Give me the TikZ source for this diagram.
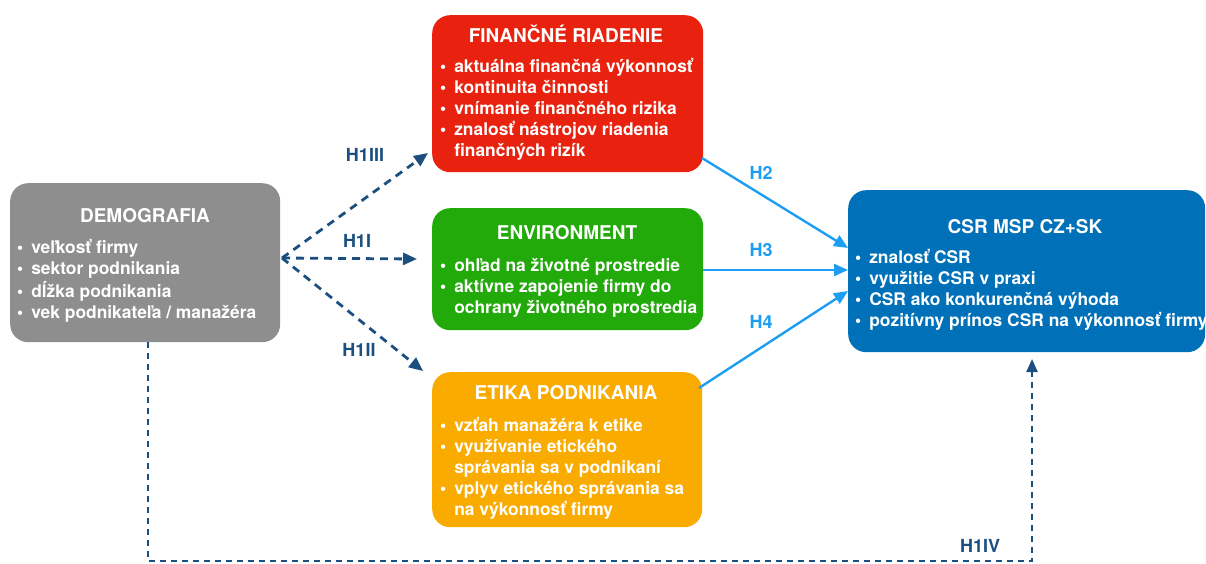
\documentclass[tikz,border=0pt]{standalone}
\usepackage{fontspec}
\setmainfont{TeX Gyre Heros}
\usetikzlibrary{arrows.meta}
\definecolor{cgray}{HTML}{8E8E8E}
\definecolor{cred}{HTML}{E8220E}
\definecolor{cgreen}{HTML}{22A90A}
\definecolor{corange}{HTML}{FAAB00}
\definecolor{cblue}{HTML}{0071B8}
\definecolor{cdark}{HTML}{1B4F80}
\definecolor{clight}{HTML}{1E9EF2}
\tikzset{
  box/.style={draw=none, rounded corners=18pt, inner sep=0pt, anchor=north west},
  ttl/.style={text=white, font=\fontsize{19}{22}\selectfont\bfseries, inner sep=0pt},
  lst/.style={text=white, font=\fontsize{17.4}{21.2}\selectfont\bfseries, inner sep=0pt, anchor=north west, align=left},
  hdash/.style={draw=cdark, line width=2.8pt, dash pattern=on 8pt off 6pt, -{Triangle[length=14pt,width=12pt]}},
  hsolid/.style={draw=clight, line width=2.4pt, -{Triangle[length=14pt,width=12pt]}},
  hlab/.style={font=\fontsize{18}{20}\selectfont\bfseries, inner sep=0pt},
}
\newcommand{\bl}{\textbullet}
\begin{document}
\begin{tikzpicture}[x=1pt,y=-1pt]
\useasboundingbox (0,0) rectangle (1206,564);
% boxes
\node[box, fill=cgray, minimum width=270pt, minimum height=159pt] (demo) at (10,183) {};
\node[box, fill=cred, minimum width=271pt, minimum height=157pt] (fin) at (432,15) {};
\node[box, fill=cgreen, minimum width=271pt, minimum height=122pt] (env) at (432,208) {};
\node[box, fill=corange, minimum width=270pt, minimum height=155pt] (eti) at (432,372) {};
\node[box, fill=cblue, minimum width=357pt, minimum height=162pt] (csr) at (848,190) {};
% titles
\node[ttl] (demot) at (145,216) {DEMOGRAFIA};
\node[ttl] (fint) at (566,34) {FINANČNÉ RIADENIE};
\node[ttl] (envt) at (567,233) {ENVIRONMENT};
\node[ttl] (etit) at (566,393) {ETIKA PODNIKANIA};
\node[ttl] (csrt) at (1025,227) {CSR MSP CZ+SK};
% lists
\node[lst] (demol) at (17,238.4) {\begin{tabular}{@{}l@{\hspace{8pt}}l@{}}
\bl & veľkosť firmy\\
\bl & sektor podnikania\\
\bl & dĺžka podnikania\\
\bl & vek podnikateľa / manažéra
\end{tabular}};
\node[lst] (finl) at (440,57) {\begin{tabular}{@{}l@{\hspace{8pt}}l@{}}
\bl & aktuálna finančná výkonnosť\\
\bl & kontinuita činnosti\\
\bl & vnímanie finančného rizika\\
\bl & znalosť nástrojov riadenia\\
 & finančných rizík
\end{tabular}};
\node[lst] (envl) at (440,256) {\begin{tabular}{@{}l@{\hspace{8pt}}l@{}}
\bl & ohľad na životné prostredie\\
\bl & aktívne zapojenie firmy do\\
 & ochrany životného prostredia
\end{tabular}};
\node[lst] (etil) at (440,416) {\begin{tabular}{@{}l@{\hspace{8pt}}l@{}}
\bl & vzťah manažéra k etike\\
\bl & využívanie etického\\
 & správania sa v podnikaní\\
\bl & vplyv etického správania sa\\
 & na výkonnosť firmy
\end{tabular}};
\node[lst] (csrl) at (855,248) {\begin{tabular}{@{}l@{\hspace{8pt}}l@{}}
\bl & znalosť CSR\\
\bl & využitie CSR v praxi\\
\bl & CSR ako konkurenčná výhoda\\
\bl & pozitívny prínos CSR na výkonnosť firmy
\end{tabular}};
% connector end points
\coordinate (s1) at (282,258);
\coordinate (e3) at (428,153);
\coordinate (e1) at (417,259);
\coordinate (e2) at (423,371);
\coordinate (f2) at (702,158);
\coordinate (t2) at (848,248);
\coordinate (f3) at (703,270);
\coordinate (t3) at (848,270);
\coordinate (f4) at (699,388);
\coordinate (t4) at (848,291);
\coordinate (b0) at (148,342);
\coordinate (b1) at (148,561);
\coordinate (b2) at (1032,561);
\coordinate (b3) at (1032,359);
% dashed arrows
\draw[hdash] (s1) -- (e3);
\draw[hdash] (s1) -- (e1);
\draw[hdash] (s1) -- (e2);
\draw[draw=cdark, line width=2.3pt, dash pattern=on 6pt off 5pt, -{Triangle[length=13pt,width=11pt]}] (b0) -- (b1) -- (b2) -- (b3);
% solid arrows
\draw[hsolid] (f2) -- (t2);
\draw[hsolid] (f3) -- (t3);
\draw[hsolid] (f4) -- (t4);
% labels
\node[hlab, text=cdark] (l3) at (365,155) {H1III};
\node[hlab, text=cdark] (l1) at (357,241) {H1I};
\node[hlab, text=cdark] (l2) at (359,350) {H1II};
\node[hlab, text=cdark] (l4) at (980,546) {H1IV};
\node[hlab, text=clight] (lh2) at (761,173) {H2};
\node[hlab, text=clight] (lh3) at (761,250) {H3};
\node[hlab, text=clight] (lh4) at (761,322) {H4};
\end{tikzpicture}
\end{document}
